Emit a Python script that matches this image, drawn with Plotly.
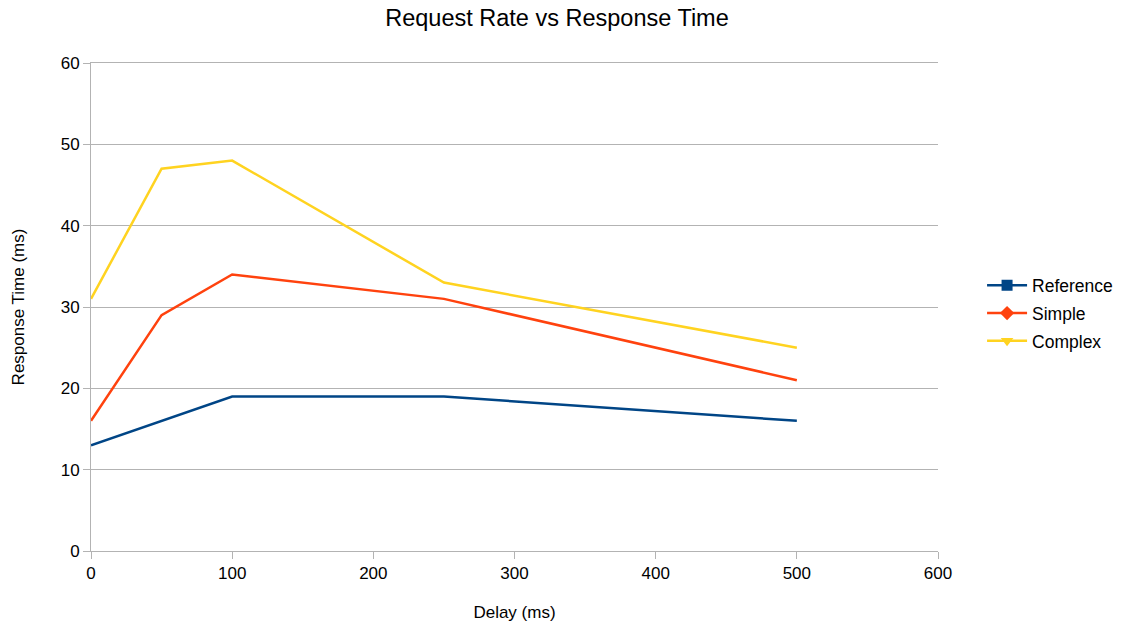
import plotly.graph_objects as go

delay_ms = [0, 50, 100, 250, 500]
reference_ms = [13, 16, 19, 19, 16]
simple_ms = [16, 29, 34, 31, 21]
complex_ms = [31, 47, 48, 33, 25]

series = [
    ("Reference", reference_ms, "#004586", "square"),
    ("Simple", simple_ms, "#ff420e", "diamond"),
    ("Complex", complex_ms, "#ffd320", "triangle-down"),
]

FONT = "Liberation Sans, Arial, sans-serif"

fig = go.Figure()
for name, values, color, symbol in series:
    # plotted line
    fig.add_trace(go.Scatter(
        x=delay_ms, y=values, mode="lines", name=name,
        line=dict(color=color, width=2.5), showlegend=False,
    ))
    # legend entry with line + marker
    fig.add_trace(go.Scatter(
        x=[None], y=[None], mode="lines+markers", name=name,
        legendgroup=name,
        line=dict(color=color, width=2.5),
        marker=dict(color=color, symbol=symbol, size=11),
    ))

fig.update_layout(
    width=1123, height=625,
    paper_bgcolor="white", plot_bgcolor="white",
    margin=dict(l=91, r=185, t=63, b=74),
    font=dict(family=FONT, color="#000000", size=17),
    title=dict(text="Request Rate vs Response Time", x=0.496, xanchor="center",
               y=0.971, yanchor="middle", font=dict(size=23.5, family=FONT)),
    legend=dict(xref="container", yref="container",
                x=0.8745, y=0.4985, xanchor="left", yanchor="middle",
                font=dict(size=17.5, family=FONT), tracegroupgap=2,
                itemwidth=40, bgcolor="rgba(0,0,0,0)"),
    xaxis=dict(
        range=[0, 600], tickvals=[0, 100, 200, 300, 400, 500, 600],
        showgrid=False, zeroline=False, automargin=False,
        showline=True, linecolor="#b3b3b3", linewidth=1, mirror=True,
        ticks="outside", ticklen=7, tickcolor="#b3b3b3",
        tickfont=dict(size=17),
        title=dict(text="Delay (ms)", font=dict(size=17), standoff=23),
    ),
    yaxis=dict(
        range=[0, 60], tickvals=[0, 10, 20, 30, 40, 50, 60],
        showgrid=True, gridcolor="#b3b3b3", gridwidth=1, zeroline=False,
        automargin=False,
        showline=True, linecolor="#b3b3b3", linewidth=1,
        ticks="outside", ticklen=7, tickcolor="#b3b3b3",
        tickfont=dict(size=17),
        title=dict(text="Response Time (ms)", font=dict(size=17), standoff=31),
    ),
)

fig.write_html("out.html")
